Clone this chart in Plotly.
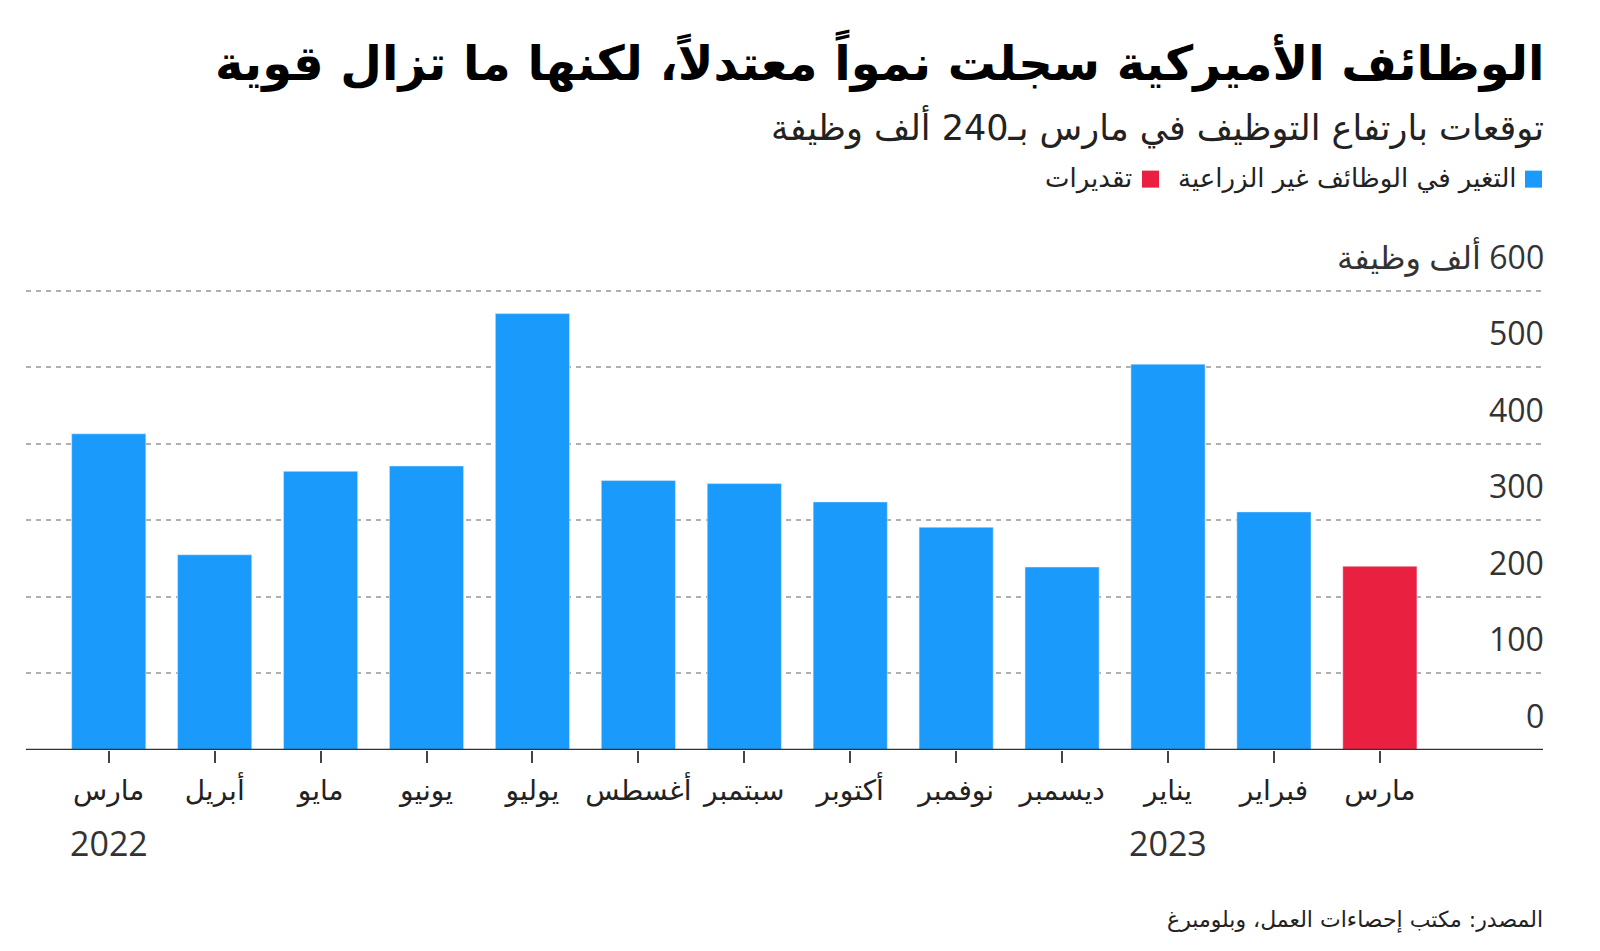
import plotly.graph_objects as go

months = ["مارس", "أبريل", "مايو", "يونيو", "يوليو", "أغسطس", "سبتمبر",
          "أكتوبر", "نوفمبر", "ديسمبر", "يناير", "فبراير", "مارس"]
actual_values = [413, 255, 364, 371, 570, 352, 348, 324, 291, 239, 504, 311, None]
estimate_values = [None] * 12 + [240]
year_labels = ["2022", "2023"]
year_positions = [0, 10]
y_ticks = [0, 100, 200, 300, 400, 500, 600]

RTL = lambda s: "\u202B" + s + "\u202C"

BLUE = "#1a9bfb"
RED = "#ea2040"
FONT = "Open Sans, DejaVu Sans, sans-serif"
AR_FONT = "DejaVu Sans, sans-serif"

x = list(range(len(months)))

# page body has an 8px margin: work in screen pixels and convert
OFF = 8
L_s, R_s = 26, 1543          # plot left/right on screen
T_s, B_s = 283.3, 750        # plot top/bottom on screen
L, R, T, B = L_s - OFF, R_s - OFF, T_s - OFF, B_s - OFF


def px_x(sx):
    return (sx - OFF - L) / (R - L)


def px_y(sy):
    return (B - (sy - OFF)) / (B - T)


fig = go.Figure()
fig.add_trace(go.Bar(x=x, y=actual_values, marker_color=BLUE, width=0.70,
                     name="التغير في الوظائف غير الزراعية", showlegend=False))
fig.add_trace(go.Bar(x=x, y=estimate_values, marker_color=RED, width=0.70,
                     name="تقديرات", showlegend=False))

fig.update_layout(
    width=1600, height=951,
    margin=dict(l=L, r=1600 - R, t=T, b=951 - B, pad=0),
    paper_bgcolor="white", plot_bgcolor="white",
    barmode="overlay",
    font=dict(family=FONT, color="#222"),
    xaxis=dict(range=[-0.781, 13.54], tickvals=x, ticktext=months,
               showgrid=False, zeroline=False, showline=False,
               ticks="outside", ticklen=12, tickwidth=1.5, tickcolor="#444",
               ticklabelstandoff=3,
               tickfont=dict(family=AR_FONT, size=28, color="#222"),
               fixedrange=True),
    yaxis=dict(range=[0, 610], tickvals=y_ticks[1:], showticklabels=False,
               showgrid=True, gridcolor="#b0b0b0", gridwidth=2, griddash="5px,5px",
               zeroline=False, showline=False, fixedrange=True),
)

# baseline
fig.add_shape(type="line", xref="paper", yref="y", x0=0, x1=1, y0=0, y1=0,
              line=dict(color="#333", width=2.5), layer="above")

# y labels above gridlines on the right
for v in y_ticks:
    txt = str(v) if v != 600 else RTL("600 ألف وظيفة")
    fig.add_annotation(xref="paper", yref="y", x=px_x(1546), y=v, text=txt,
                       xanchor="right", yanchor="bottom", yshift=11, showarrow=False,
                       font=dict(family=FONT, size=32, color="#333"))

# years
for lbl, pos in zip(year_labels, year_positions):
    fig.add_annotation(xref="x", yref="paper", x=pos, y=px_y(843), text=lbl,
                       xanchor="center", yanchor="middle", showarrow=False,
                       font=dict(family=FONT, size=34, color="#333"))

# title / subtitle
fig.add_annotation(xref="paper", yref="paper", x=px_x(1546), y=px_y(61),
                   text="<b>" + RTL("الوظائف الأميركية سجلت نمواً معتدلاً، لكنها ما تزال قوية") + "</b>",
                   xanchor="right", yanchor="middle", showarrow=False,
                   font=dict(family=AR_FONT, size=48, color="#000"))
fig.add_annotation(xref="paper", yref="paper", x=px_x(1546), y=px_y(127),
                   text=RTL("توقعات بارتفاع التوظيف في مارس بـ240 ألف وظيفة"),
                   xanchor="right", yanchor="middle", showarrow=False,
                   font=dict(family=AR_FONT, size=35, color="#222"))

# legend (RTL, built manually)
for sx0, sx1, col in [(1525, 1542, BLUE), (1142, 1159, RED)]:
    fig.add_shape(type="rect", xref="paper", yref="paper",
                  x0=px_x(sx0), x1=px_x(sx1), y0=px_y(188), y1=px_y(171),
                  fillcolor=col, line=dict(width=0))
for sx, txt in [(1519, "التغير في الوظائف غير الزراعية"), (1134, "تقديرات")]:
    fig.add_annotation(xref="paper", yref="paper", x=px_x(sx), y=px_y(179),
                       text=RTL(txt), xanchor="right", yanchor="middle",
                       showarrow=False, font=dict(family=AR_FONT, size=26, color="#222"))

# source
fig.add_annotation(xref="paper", yref="paper", x=px_x(1545), y=px_y(920),
                   text=RTL("المصدر: مكتب إحصاءات العمل، وبلومبرغ"), xanchor="right", yanchor="middle",
                   showarrow=False, font=dict(family=AR_FONT, size=22, color="#222"))

fig.write_html("out.html", config={"displayModeBar": False})
